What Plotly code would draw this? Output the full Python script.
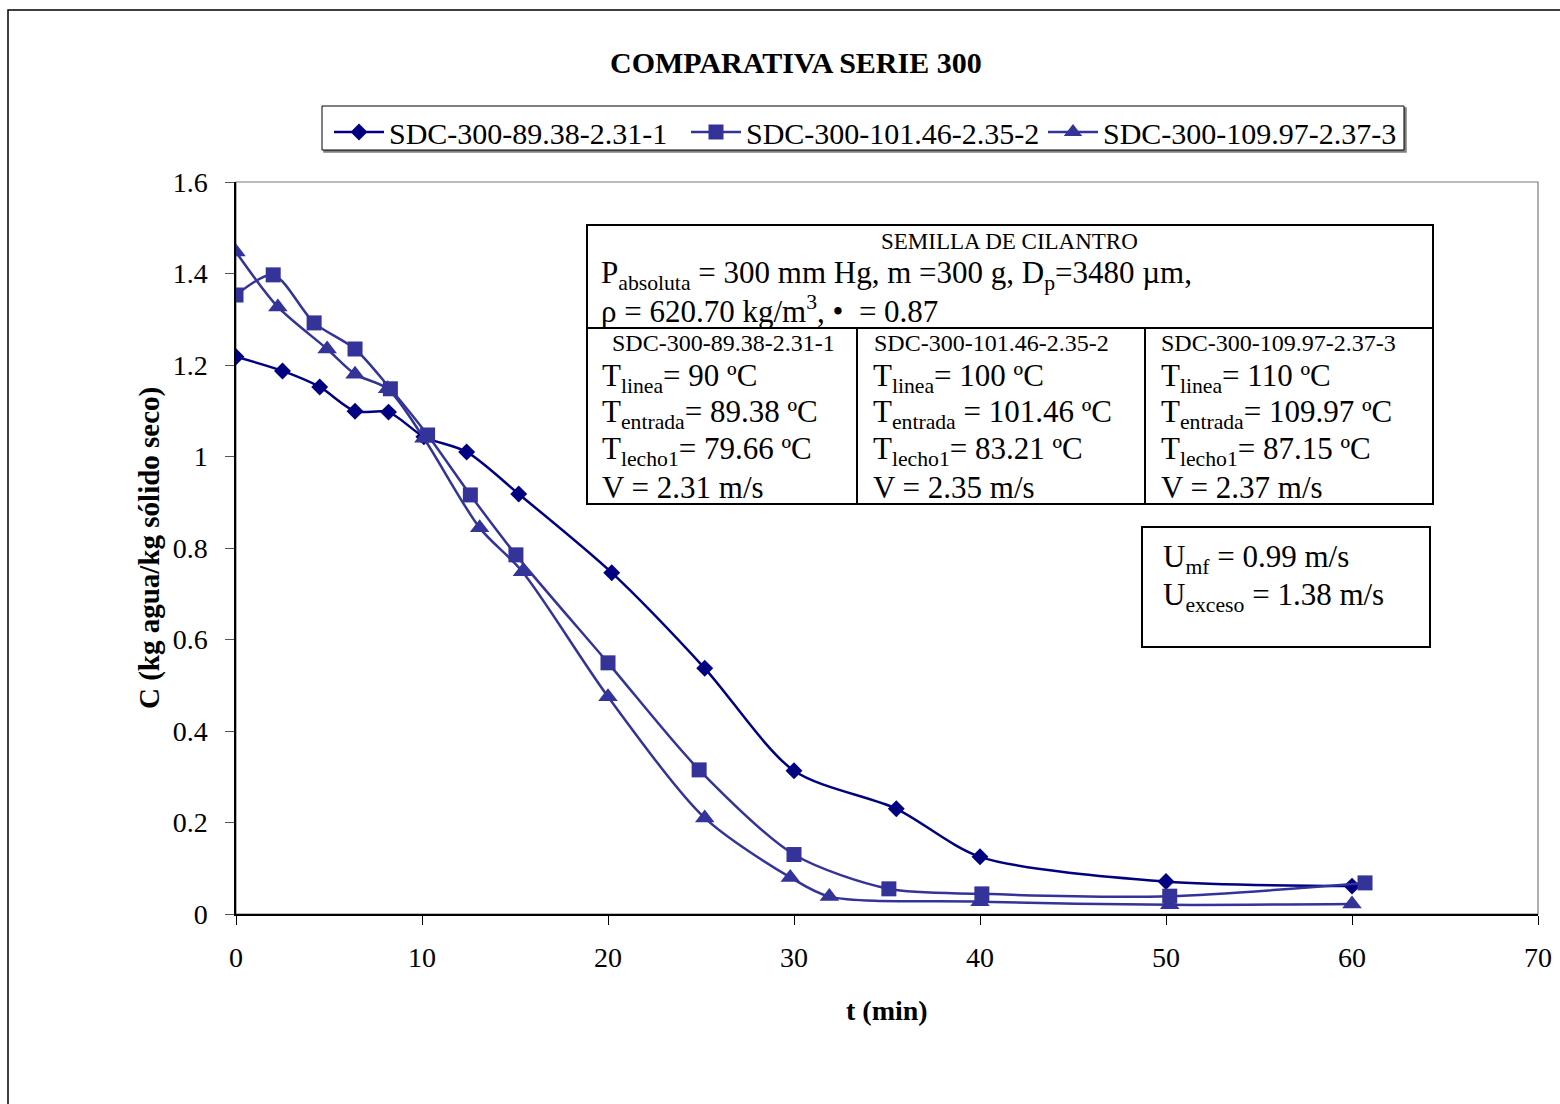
import plotly.graph_objects as go

W, H = 1560, 1104


def px(x):
    return x / W


def py(y):
    return 1 - y / H


# ---------------- data ----------------
names = ["SDC-300-89.38-2.31-1", "SDC-300-101.46-2.35-2", "SDC-300-109.97-2.37-3"]

t1 = [0, 2.5, 4.5, 6.4, 8.2, 10.1, 12.4, 15.2, 20.2, 25.2, 30.0, 35.5, 40.0, 50.0, 60.0]
c1 = [1.218, 1.187, 1.152, 1.099, 1.097, 1.043, 1.010, 0.918, 0.746, 0.537, 0.313, 0.230, 0.125, 0.071, 0.061]

t2 = [0, 2.0, 4.2, 6.4, 8.3, 10.3, 12.6, 15.05, 20.0, 24.9, 30.0, 35.1, 40.1, 50.2, 60.7]
c2 = [1.353, 1.397, 1.292, 1.235, 1.148, 1.047, 0.916, 0.785, 0.549, 0.315, 0.130, 0.055, 0.044, 0.039, 0.068]

t3 = [0, 2.25, 4.9, 6.4, 8.15, 10.1, 13.1, 15.4, 20.0, 25.2, 29.8, 31.9, 40.0, 50.2, 60.0]
c3 = [1.447, 1.327, 1.235, 1.180, 1.148, 1.040, 0.844, 0.748, 0.475, 0.210, 0.080, 0.038, 0.027, 0.020, 0.022]

x_ticks = [0, 10, 20, 30, 40, 50, 60, 70]
y_ticks = [0, 0.2, 0.4, 0.6, 0.8, 1.0, 1.2, 1.4, 1.6]
y_ticktext = ["0", "0.2", "0.4", "0.6", "0.8", "1", "1.2", "1.4", "1.6"]

NAVY = "#000080"
BLUE = "#333399"
SERIF = "Liberation Serif, Times New Roman, serif"

fig = go.Figure()

fig.add_trace(go.Scatter(
    x=t1, y=c1, name=names[0], mode="lines+markers", legendrank=1,
    line=dict(color=NAVY, width=2.5, shape="spline", smoothing=0.8),
    marker=dict(symbol="diamond", size=13, color=NAVY),
))
fig.add_trace(go.Scatter(
    x=t3, y=c3, name=names[2], mode="lines+markers", legendrank=3,
    line=dict(color=BLUE, width=2.5, shape="spline", smoothing=0.8),
    marker=dict(symbol="triangle-up", size=17, color=BLUE),
))
fig.add_trace(go.Scatter(
    x=t2, y=c2, name=names[1], mode="lines+markers", legendrank=2,
    line=dict(color=BLUE, width=2.5, shape="spline", smoothing=0.8),
    marker=dict(symbol="square", size=15, color=BLUE),
))

shapes = []
# outer chart border
shapes.append(dict(type="rect", xref="paper", yref="paper",
                   x0=px(8), x1=px(1575), y0=py(1120), y1=py(10),
                   line=dict(color="black", width=1.5)))
# plot area border (top / right, gray)
shapes.append(dict(type="rect", xref="paper", yref="paper",
                   x0=px(236), x1=px(1538), y0=py(914), y1=py(182),
                   line=dict(color="#7a7a7a", width=1.2), layer="below"))
# legend shadow + box
shapes.append(dict(type="rect", xref="paper", yref="paper",
                   x0=px(324), x1=px(1406), y0=py(152), y1=py(108),
                   line=dict(color="#808080", width=1.5), fillcolor="#808080", layer="below"))
shapes.append(dict(type="rect", xref="paper", yref="paper",
                   x0=px(322), x1=px(1404), y0=py(150), y1=py(106),
                   line=dict(color="black", width=1), fillcolor="white", layer="below"))
# info table
shapes.append(dict(type="rect", xref="paper", yref="paper",
                   x0=px(587), x1=px(1433), y0=py(504), y1=py(225),
                   line=dict(color="black", width=2), fillcolor="white", layer="above"))
shapes.append(dict(type="line", xref="paper", yref="paper",
                   x0=px(587), x1=px(1433), y0=py(328), y1=py(328),
                   line=dict(color="black", width=2)))
for xv in (857, 1145):
    shapes.append(dict(type="line", xref="paper", yref="paper",
                       x0=px(xv), x1=px(xv), y0=py(328), y1=py(504),
                       line=dict(color="black", width=2)))
# Umf box
shapes.append(dict(type="rect", xref="paper", yref="paper",
                   x0=px(1142), x1=px(1430), y0=py(647), y1=py(527),
                   line=dict(color="black", width=2), fillcolor="white", layer="above"))

ann = []


def txt(x, y, s, size, anchor="left"):
    ann.append(dict(x=px(x), y=py(y), xref="paper", yref="paper", text=s,
                    showarrow=False, xanchor=anchor, yanchor="middle",
                    font=dict(family=SERIF, size=size, color="black")))


txt(796, 63, "<b>COMPARATIVA SERIE 300</b>", 30, "center")
txt(887, 1010, "<b>t (min)</b>", 28, "center")
ann.append(dict(x=px(149), y=py(548), xref="paper", yref="paper",
                text="<b>C (kg agua/kg sólido seco)</b>", textangle=-90,
                showarrow=False, xanchor="center", yanchor="middle",
                font=dict(family=SERIF, size=29, color="black")))

txt(1009, 241, "SEMILLA DE CILANTRO", 23, "center")
txt(599, 275, "P<sub>absoluta</sub> = 300 mm Hg, m =300 g, D<sub>p</sub>=3480 µm,", 31)
txt(599, 309, "ρ = 620.70 kg/m<sup>3</sup>, •  = 0.87", 31)

hdr_x = [610, 872, 1159]
col_x = [600, 871, 1159]
for h, xv in zip(names, hdr_x):
    txt(xv, 343, h, 24)

rows = [
    ["T<sub>linea</sub>= 90 ºC", "T<sub>linea</sub>= 100 ºC", "T<sub>linea</sub>= 110 ºC"],
    ["T<sub>entrada</sub>= 89.38 ºC", "T<sub>entrada</sub> = 101.46 ºC", "T<sub>entrada</sub>= 109.97 ºC"],
    ["T<sub>lecho1</sub>= 79.66 ºC", "T<sub>lecho1</sub>= 83.21 ºC", "T<sub>lecho1</sub>= 87.15 ºC"],
    ["V = 2.31 m/s", "V = 2.35 m/s", "V = 2.37 m/s"],
]
row_y = [378, 414, 451, 487]
for r, yv in zip(rows, row_y):
    for s, xv in zip(r, col_x):
        txt(xv, yv, s, 31)

txt(1161, 559, "U<sub>mf</sub> = 0.99 m/s", 31)
txt(1161, 597, "U<sub>exceso</sub> = 1.38 m/s", 31)

fig.update_layout(
    width=W, height=H,
    margin=dict(l=0, r=0, t=0, b=0),
    paper_bgcolor="white", plot_bgcolor="rgba(0,0,0,0)",
    font=dict(family=SERIF, size=28, color="black"),
    showlegend=True,
    legend=dict(orientation="h", x=px(329), y=py(106), xanchor="left", yanchor="top",
                bgcolor="rgba(0,0,0,0)", borderwidth=0,
                font=dict(family=SERIF, size=30, color="black"),
                itemwidth=50, entrywidth=292, entrywidthmode="pixels",
                tracegroupgap=0),
    shapes=shapes,
    annotations=ann,
    xaxis=dict(domain=[px(236), px(1538)], range=[0, 70], tickvals=x_ticks,
               showgrid=False, zeroline=False, showline=True, linecolor="black", linewidth=2,
               ticks="outside", ticklen=9, tickcolor="black", tickwidth=1,
               tickfont=dict(family=SERIF, size=28), automargin=False,
               ticklabelstandoff=8),
    yaxis=dict(domain=[py(914), py(182)], range=[0, 1.6], tickvals=y_ticks,
               ticktext=y_ticktext,
               showgrid=False, zeroline=False, showline=True, linecolor="black", linewidth=1.5,
               ticks="outside", ticklen=9, tickcolor="#555555", tickwidth=1,
               tickfont=dict(family=SERIF, size=28), automargin=False,
               ticklabelstandoff=12),
)

fig.write_html("out.html")
